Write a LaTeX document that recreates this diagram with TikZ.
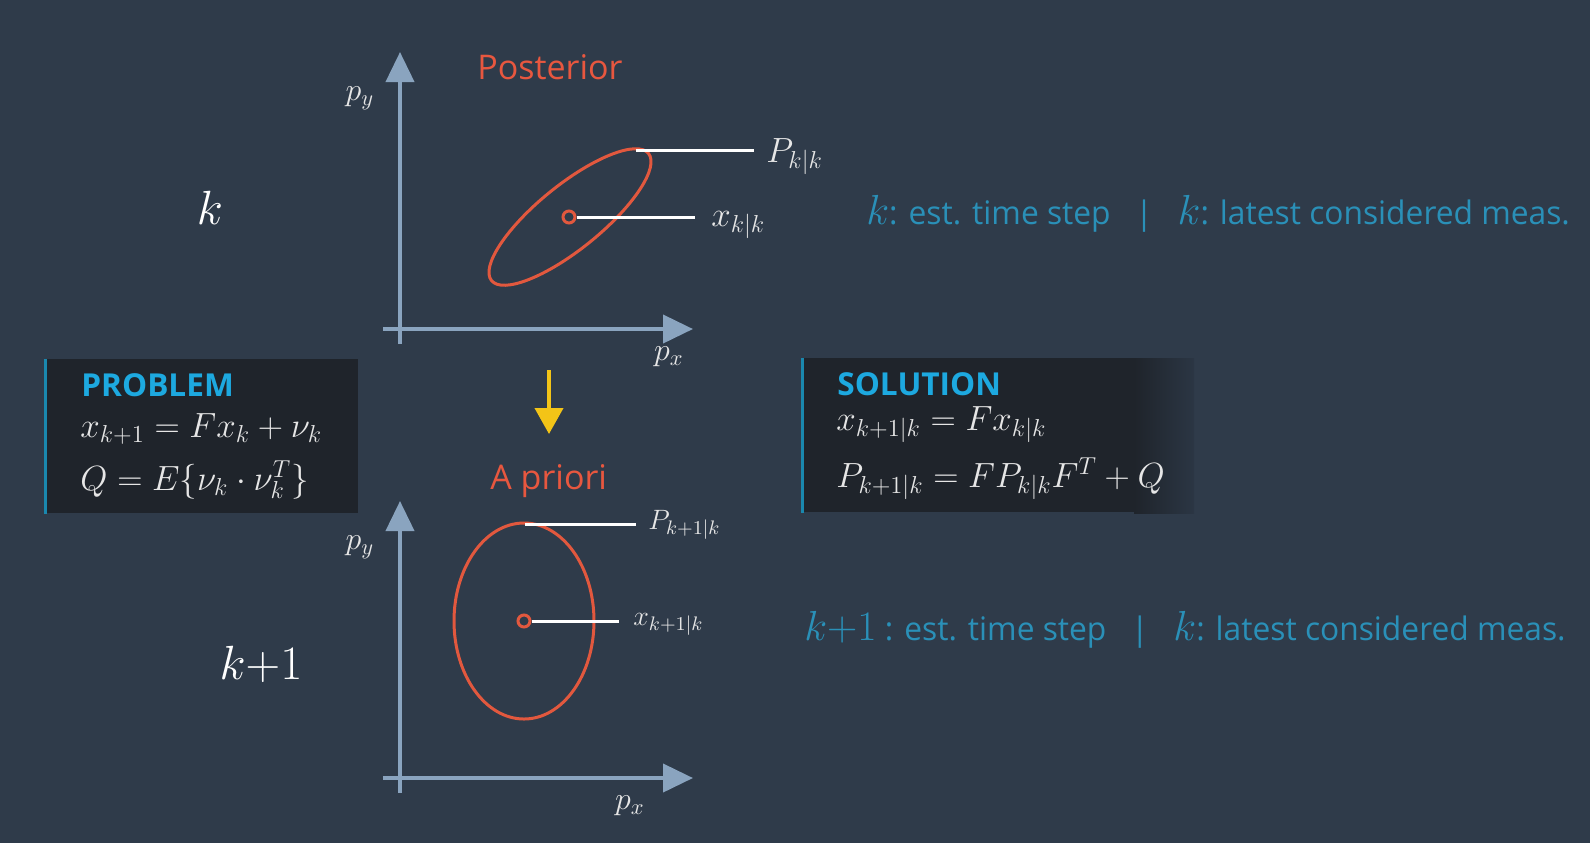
\documentclass[tikz,border=0pt]{standalone}
\usepackage{fix-cm}
\usepackage{fontspec}
\newfontfamily\osans{Open Sans}
\newfontfamily\osanscond[FakeStretch=0.98]{Open Sans}
\usetikzlibrary{arrows.meta}

\definecolor{bgslate}{HTML}{2F3B4A}
\definecolor{boxdark}{HTML}{1F242B}
\definecolor{boxedge}{HTML}{2B3644}
\definecolor{axisblue}{HTML}{8AA4BF}
\definecolor{ellred}{HTML}{E2583E}
\definecolor{titlered}{HTML}{E8573F}
\definecolor{headcyan}{HTML}{1DA9E0}
\definecolor{notecyan}{HTML}{2A90B8}
\definecolor{stripe}{HTML}{1A88AE}
\definecolor{arrowyellow}{HTML}{F3C417}
\definecolor{labelgrey}{HTML}{E6E6E6}

\newcommand{\notek}[1]{{\fontsize{21}{24}\selectfont$#1$}}

\begin{document}
\begin{tikzpicture}[x=0.5pt,y=-0.5pt]
        \tikzstyle{every node}=[inner sep=0pt]

        \tikzstyle{axis}=[draw=axisblue,line width=2pt,-{Triangle[length=15pt,width=14pt]}]
        \tikzstyle{axlabel}=[text=labelgrey,font=\fontsize{16}{18}\selectfont]
        \tikzstyle{steplabel}=[text=white,font=\fontsize{24}{28}\selectfont]
        \tikzstyle{ell}=[draw=ellred,line width=1.5pt]
        \tikzstyle{dot}=[circle,draw=ellred,line width=1.5pt,minimum size=6pt]
        \tikzstyle{lead}=[draw=white,line width=1.5pt]
        \tikzstyle{covlabel}=[anchor=base west,text=labelgrey,font=\fontsize{17.5}{20}\selectfont]
        \tikzstyle{covsmall}=[covlabel,font=\fontsize{14}{17}\selectfont]
        \tikzstyle{title}=[anchor=base west,text=titlered,font=\osans\fontsize{17}{20}\selectfont]
        \tikzstyle{box}=[anchor=north west,fill=boxdark,minimum width=156.5pt,minimum height=77pt]
        \tikzstyle{boxhead}=[anchor=base west,text=headcyan,font=\osans\bfseries\fontsize{15.8}{18}\selectfont]
        \tikzstyle{boxeq}=[anchor=base west,text=labelgrey,font=\fontsize{17.5}{20}\selectfont]
        \tikzstyle{note}=[anchor=base west,text=notecyan,font=\osanscond\fontsize{16.2}{18}\selectfont]

        % background
        \fill[bgslate] (0,0) rectangle (1590,843);

        % axes of both plots
        \foreach \oy/\pxx/\nm in {329/669/post, 778/630/prio} {
            \coordinate (\nm-o) at (400,\oy);
            \draw[axis] (400,\oy+15) -- (400,\oy-277);
            \draw[axis] (383,\oy) -- (693,\oy);
            \node[axlabel] (\nm-py) at (360,\oy-231) {$p_y$};
            \node[axlabel] (\nm-px) at (\pxx,\oy+28) {$p_x$};
        };

        % time step labels
        \node[steplabel] (kstep) at (210,208) {$k$};
        \node[steplabel] (kone) at (261,664) {$k{+}1$};

        % posterior
        \node[title] (posterior) at (477,79) {Posterior};
        \draw[ell,rotate around={39:(570,217)}] (570,217) ellipse [x radius=101,y radius=32];
        \node[dot] (xpost) at (569,217) {};
        \coordinate (ppost) at (636,150);
        \node[covlabel] (ppost-l) at (766,162) {$P_{k|k}$};
        \node[covlabel] (xpost-l) at (711,226) {$x_{k|k}$};
        \draw[lead,shorten >=6pt] (ppost) -- (ppost -| ppost-l.west);
        \draw[lead,shorten >=8pt] (xpost.east) -- (xpost.east -| xpost-l.west);

        % prediction arrow
        \coordinate (arr-s) at (549,370);
        \coordinate (arr-e) at (549,434);
        \draw[draw=arrowyellow,line width=2pt,-{Triangle[length=13pt,width=14pt]}] (arr-s) -- (arr-e);

        % a priori
        \node[title] (apriori) at (490,489) {A priori};
        \draw[ell] (524,621) ellipse [x radius=70,y radius=98];
        \node[dot] (xprio) at (524,621) {};
        \coordinate (pprio) at (525,524);
        \node[covsmall] (pprio-l) at (648,529) {$P_{k+1|k}$};
        \node[covsmall] (xprio-l) at (633,625) {$x_{k+1|k}$};
        \draw[lead,shorten >=6pt] (pprio) -- (pprio -| pprio-l.west);
        \draw[lead,shorten >=7pt] (xprio.east) -- (xprio.east -| xprio-l.west);

        % problem box
        \node[box] (problem) at (45,359) {};
        \draw[stripe,line width=1.5pt] (problem.north west) -- (problem.south west);
        \node[boxhead] (problem-h) at (81,396) {PROBLEM};
        \node[boxeq] (problem-a) at (80,437) {$x_{k+1} = Fx_k + \nu_k$};
        \node[boxeq] (problem-b) at (80,490) {$Q = E\{\nu_k \cdot \nu_k^T\}$};

        % solution box, fading out on the right
        \node[box,minimum width=166pt] (solution) at (802,358) {};
        \shade[left color=boxdark,right color=boxedge] (1134,358) rectangle (1194,513);
        \draw[stripe,line width=1.5pt] (solution.north west) -- (solution.south west);
        \node[boxhead] (solution-h) at (837,395) {SOLUTION};
        \node[boxeq] (solution-a) at (836,430) {$x_{k+1|k} = Fx_{k|k}$};
        \node[boxeq] (solution-b) at (836,487) {$P_{k+1|k} = FP_{k|k}F^T + Q$};

        % notes on the right
        \node[note] (note-post) at (866,224) {\notek{k}: est. time step \ \ |\ \ \ \notek{k}: latest considered meas.};
        \node[note] (note-prio) at (804,640) {\notek{k{+}1} : est. time step \ \ |\ \ \ \notek{k}: latest considered meas.};

\end{tikzpicture}
\end{document}
